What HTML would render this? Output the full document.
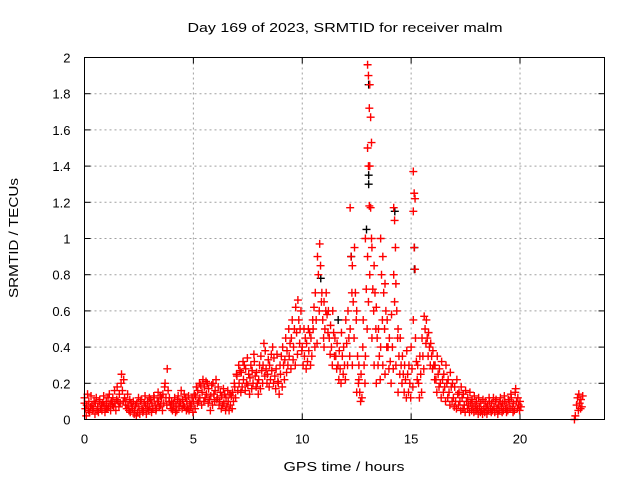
<!DOCTYPE html>
<html><head><meta charset="utf-8"><style>
html,body{margin:0;padding:0;background:#fff}
svg text{font-family:"Liberation Sans",sans-serif;font-size:13px;fill:#000}
</style></head><body>
<svg id="chart" width="640" height="480" viewBox="0 0 640 480" xmlns="http://www.w3.org/2000/svg">
<rect width="640" height="480" fill="#fff"/>
<text x="345" y="32" text-anchor="middle" font-size="14" textLength="315" lengthAdjust="spacingAndGlyphs">Day 169 of 2023, SRMTID for receiver malm</text>
<text transform="translate(18,238) rotate(-90)" text-anchor="middle" font-size="14" textLength="120" lengthAdjust="spacingAndGlyphs">SRMTID / TECUs</text>
<text x="344" y="471" text-anchor="middle" font-size="14" textLength="121" lengthAdjust="spacingAndGlyphs">GPS time / hours</text>
<g id="grid"></g><g id="ticks"></g><g id="marks"></g>
<rect x="84.5" y="57.5" width="520" height="362" fill="none" stroke="#000" stroke-width="1"/>
</svg>
<script>
const xTicks=[0,5,10,15,20];
const yTicks=[0,0.2,0.4,0.6,0.8,1,1.2,1.4,1.6,1.8,2];
const yTickLabels=["0","0.2","0.4","0.6","0.8","1","1.2","1.4","1.6","1.8","2"];
const times=[0,0.1,0.2,0.3,0.4,0.5,0.6,0.7,0.8,0.9,1.0,1.1,1.2,1.3,1.4,1.5,1.6,1.7,1.8,1.9,2.0,2.1,2.2,2.3,2.4,2.5,2.6,2.7,2.8,2.9,3.0,3.1,3.2,3.3,3.4,3.5,3.6,3.7,3.8,3.9,4.0,4.1,4.2,4.3,4.4,4.5,4.6,4.7,4.8,4.9,5.0,5.1,5.2,5.3,5.4,5.5,5.6,5.7,5.8,5.9,6.0,6.1,6.2,6.3,6.4,6.5,6.6,6.7,6.8,6.9,7.0,7.1,7.2,7.3,7.4,7.5,7.6,7.7,7.8,7.9,8.0,8.1,8.2,8.3,8.4,8.5,8.6,8.7,8.8,8.9,9.0,9.1,9.2,9.3,9.4,9.5,9.6,9.7,9.8,9.9,10.0,10.1,10.2,10.3,10.4,10.5,10.6,10.7,10.8,10.9,11.0,11.1,11.2,11.3,11.4,11.5,11.6,11.7,11.8,11.9,12.0,12.1,12.2,12.3,12.4,12.5,12.6,12.7,12.8,12.9,13.0,13.1,13.2,13.3,13.4,13.5,13.6,13.7,13.8,13.9,14.0,14.1,14.2,14.3,14.4,14.5,14.6,14.7,14.8,14.9,15.0,15.1,15.2,15.3,15.4,15.5,15.6,15.7,15.8,15.9,16.0,16.1,16.2,16.3,16.4,16.5,16.6,16.7,16.8,16.9,17.0,17.1,17.2,17.3,17.4,17.5,17.6,17.7,17.8,17.9,18.0,18.1,18.2,18.3,18.4,18.5,18.6,18.7,18.8,18.9,19.0,19.1,19.2,19.3,19.4,19.5,19.6,19.7,19.8,19.9,20.0,22.5,22.6,22.7,22.8];
const values=[
[.12,.06,.02,.09],[.08,.14,.05],[.1,.04,.07],[.13,.08,.05],[.06,.1,.03],[.09,.12,.05],[.07,.04,.1],[.11,.06,.08],[.05,.09,.13],[.08,.04,.06],
[.1,.06,.12],[.07,.14,.09],[.05,.1,.08],[.12,.07,.16],[.09,.05,.11],[.18,.1,.07],[.14,.09,.2],[.25,.16,.1],[.22,.12,.08],[.1,.06,.14],
[.08,.05,.11],[.04,.09,.07],[.06,.1,.03],[.05,.08,.02],[.09,.04,.12],[.07,.03,.1],[.11,.06,.04],[.05,.09,.13],[.08,.03,.06],[.1,.05,.12],
[.07,.11,.04],[.09,.06,.13],[.12,.08,.05],[.06,.1,.15],[.1,.07,.13],[.08,.12,.05],[.14,.09,.18],[.2,.12,.08],[.28,.16,.1],[.12,.08,.06],
[.1,.05,.09],[.07,.12,.04],[.08,.05,.11],[.13,.07,.1],[.09,.16,.06],[.11,.08,.14],[.07,.12,.05],[.1,.06,.13],[.05,.09,.07],[.08,.12,.04],
[.1,.14,.06],[.13,.18,.09],[.16,.1,.2],[.12,.19,.08],[.15,.22,.1],[.18,.12,.21],[.14,.2,.09],[.17,.11,.05],[.13,.19,.08],[.2,.14,.1],
[.16,.22,.11],[.12,.18,.08],[.1,.15,.06],[.13,.08,.17],[.09,.14,.05],[.12,.07,.16],[.1,.05,.14],[.08,.13,.06],[.15,.1,.2],[.18,.12,.25],
[.24,.16,.3],[.2,.27,.15],[.26,.18,.32],[.22,.3,.16],[.28,.2,.34],[.19,.25,.14],[.23,.3,.17],[.27,.2,.36],[.32,.24,.18],[.26,.2,.14],
[.22,.3,.17],[.35,.27,.2],[.3,.42,.24],[.38,.28,.2],[.25,.33,.18],[.3,.22,.36],[.27,.4,.2],[.34,.24,.17],[.28,.36,.21],[.2,.14,.3],
[.25,.35,.18],[.4,.3,.22],[.33,.45,.26],[.38,.3,.5],[.35,.42,.28],[.45,.55,.33],[.4,.5,.3],[.62,.48,.36],[.66,.55,.42],[.5,.6,.38],
[.4,.3,.5],[.35,.45,.28],[.42,.32,.5],[.38,.48,.3],[.45,.35,.55],[.5,.62,.4],[.7,.55,.42],[.9,.8,.6],[.97,.85,.65],[.7,.55,.45],
[.65,.5,.6,.4],[.7,.58,.48],[.6,.45,.36],[.52,.4,.3],[.6,.48,.35],[.45,.35,.28],[.42,.3,.22],[.38,.28,.2],[.48,.35,.25],[.4,.3,.22],
[.55,.42,.3],[.6,.45,.35],[1.17,.9,.7,.5],[.85,.65,.45,.3],[.95,.7,.55],[.6,.35,.2,.15],[.3,.15,.1,.22],[.25,.12,.4],[.55,.3,.2],[1.0,.72,.5,.35],
[1.96,1.9,1.72,1.5,1.4,1.18,.9,.65],[1.85,1.67,1.53,1.4,1.17,1.0,.8],[.95,.72,.6,.45],[.85,.7,.5,.3],[.62,.45,.3,.2],[.5,.35,.22],[1.0,.8,.55,.4],[.9,.7,.5,.3],[.75,.6,.4,.25],[.55,.4,.28],
[.45,.32,.2],[.58,.4,.28],[1.17,1.1,.95,.8,.65],[.75,.6,.45,.3],[.5,.35,.25,.15],[.45,.3,.2],[.35,.25,.15],[.3,.22,.12],[.38,.25,.15],[.3,.2,.12],
[.4,.28,.18],[1.37,1.25,1.22,1.15,.95,.83,.55],[.45,.32,.22],[.3,.2,.12],[.35,.25,.15],[.45,.35,.28],[.57,.5,.42],[.55,.45,.35],[.48,.4,.3],[.42,.35,.28],
[.38,.3,.22],[.3,.22,.15],[.35,.25,.18],[.28,.2,.12],[.32,.22,.15],[.25,.18,.1],[.3,.2,.12],[.22,.15,.08],[.26,.18,.1],[.2,.12,.07],
[.18,.1,.06],[.22,.14,.08],[.15,.1,.05],[.18,.12,.06],[.14,.08,.04],[.16,.1,.06],[.12,.08,.04],[.15,.09,.05],[.11,.07,.04],[.13,.08,.05],
[.1,.06,.03],[.12,.07,.04],[.09,.05,.03],[.11,.06,.04],[.1,.07,.03],[.08,.05,.12],[.1,.06,.04],[.09,.05,.12],[.07,.04,.1],[.11,.06,.03],
[.08,.05,.1],[.12,.07,.04],[.09,.05,.13],[.1,.06,.04],[.08,.05,.11],[.1,.06,.14],[.12,.07,.04],[.09,.05,.15],[.17,.1,.06],[.12,.08,.05],
[.1,.07],[.0,.02],[.08,.12,.05],[.14,.09,.06],[.11,.07,.13]];
const blackTimes=[12.2,12.9,13.0,13.0,13.0,14.2,15.1,15.1,11.6,10.8];
const blackValues=[0.9,1.05,1.35,1.3,1.85,1.15,0.95,0.83,0.55,0.78];

const X0=84.5,X1=604.5,Y0=419.5,Y1=57.5,XMAX=23.88,YMAX=2;
function sx(v){return X0+(X1-X0)*v/XMAX;}
function sy(v){return Y0-(Y0-Y1)*v/YMAX;}
const NS="http://www.w3.org/2000/svg";
const grid=document.getElementById('grid'),ticks=document.getElementById('ticks'),marks=document.getElementById('marks');
function mk(tag,attrs,parent){const e=document.createElementNS(NS,tag);for(const k in attrs)e.setAttribute(k,attrs[k]);parent.appendChild(e);return e;}
xTicks.forEach(function(t){
  const x=sx(t);
  if(t>0){const g=mk('line',{x1:x,x2:x,y1:Y1,y2:Y0,stroke:'#a0a0a0','stroke-dasharray':'2,3'},grid);
  
  }
  mk('line',{x1:x,x2:x,y1:Y0,y2:Y0-6,stroke:'#000'},ticks);
  mk('line',{x1:x,x2:x,y1:Y1,y2:Y1+6,stroke:'#000'},ticks);
  const lb=mk('text',{x:x,y:Y0+24,'text-anchor':'middle'},ticks);
  lb.textContent=String(t);
  
  
});
yTicks.forEach(function(t,i){
  const y=sy(t);
  if(t>0&&t<2){const g=mk('line',{x1:X0,x2:X1,y1:y,y2:y,stroke:'#a0a0a0','stroke-dasharray':'2,3'},grid);
  
  }
  mk('line',{x1:X0,x2:X0+6,y1:y,y2:y,stroke:'#000'},ticks);
  mk('line',{x1:X1,x2:X1-6,y1:y,y2:y,stroke:'#000'},ticks);
  const lb=mk('text',{x:X0-14,y:y+5,'text-anchor':'end'},ticks);
  lb.textContent=yTickLabels[i];
  
  
});
function plus(t,v,color){
  const x=sx(t),y=sy(v);
  const p=mk('path',{d:'M'+(x-4)+' '+y+'H'+(x+4)+'M'+x+' '+(y-4)+'V'+(y+4),stroke:color,'stroke-width':1.4,fill:'none'},marks);
  
  
}
blackTimes.forEach(function(t,i){plus(t+0.05,blackValues[i],'#000');});
times.forEach(function(t,i){values[i].forEach(function(v,j){plus(t+(j%3)*0.04,v,'#f00');});});
</script>
</body></html>
